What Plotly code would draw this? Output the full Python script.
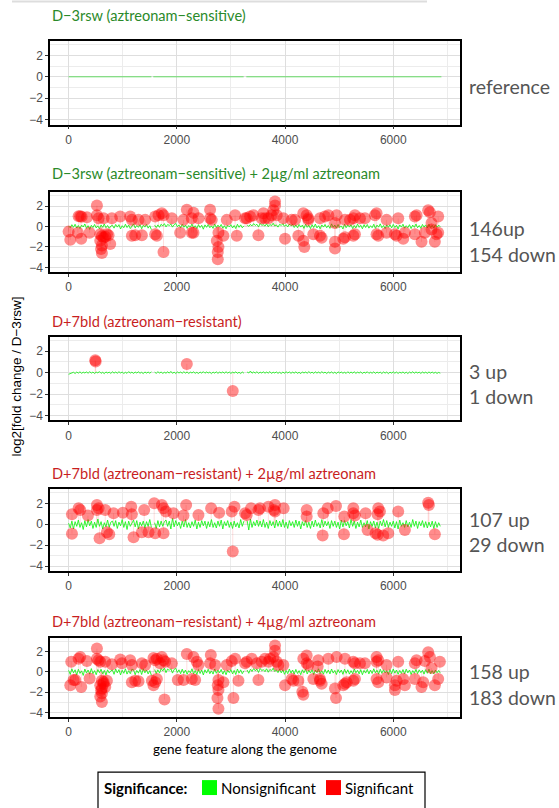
import plotly.graph_objects as go

W, H = 559, 808

# ---------------- data ----------------
# sampled gene positions for the non-significant trend line (every 30th gene)
ns_gene = list(range(0, 6900, 30))  # 230 positions

# panel 1: reference vs itself (all zero, two unannotated gaps)
ref_gene = [0, 1530, None, 1565, 3235, None, 3285, 6890]
ref_lfc = [0, 0, None, 0, 0, None, 0, 0]

p2_ns = [
    .05, -.12, .18, -.08, .22, -.15, .10, -.20, .14, -.05,
    .25, -.18, .08, -.28, .12, -.10, .20, -.14, .06, -.22,
    .16, -.08, .24, -.12, .10, -.18, .04, .12, -.16, .20,
    -.06, .18, -.24, .08, -.12, .22, -.10, .14, -.20, .06,
    .26, -.14, .10, -.08, .18, -.22, .12, -.06, .20, -.16,
    .08, -.30, None, .14, -.10, .16, -.08, .22, .05, .28,
    -.04, .20, .10, .24, -.06, .18, .30, -.02, .16, -.12,
    .22, -.08, .14, -.18, .10, -.06, .24, -.14, .08, -.20,
    .18, -.10, .12, -.26, .16, -.08, .20, -.12, .06, -.18,
    .24, -.10, .14, -.06, .20, -.16, .08, -.22, .12, -.04,
    .18, -.14, .10, -.20, .22, -.08, .16, -.12, .06, None,
    .14, .02, .20, .06, .28, .10, .22, -.04, .30, .12,
    .18, .04, .26, -.02, .20, .08, .32, .06, .16, -.06,
    .22, .10, .28, .02, .18, -.04, .24, .08, .20, -.10,
    .16, -.12, .20, -.06, .14, -.18, .22, -.08, .12, -.20,
    .18, -.10, .24, -.14, .08, -.22, .16, -.06, .20, -.12,
    .10, -.18, .26, -.08, .14, -.16, .20, -.10, .06, -.24,
    .22, -.12, .16, -.06, .18, -.20, .10, -.14, .24, -.08,
    .12, -.22, .18, -.10, .20, -.16, .08, -.12, .22, -.18,
    .14, -.06, .26, -.12, .10, -.20, .16, -.08, .18, -.14,
    .20, -.10, .12, -.24, .16, -.06, .22, -.16, .08, -.12,
    .18, -.20, .14, -.08, .24, -.12, .10, -.18, .20, -.06,
    .16, -.14, .22, -.10, .12, -.16, .18, -.08, .14, -.04]

p3_ns = [
    -.15, -.10, -.05, .04, -.08, .06, -.04, .08, -.06, .05,
    -.03, .07, -.05, .09, -.04, .06, -.08, .05, -.02, .10,
    -.06, .04, -.09, .07, -.03, .05, -.07, .08, -.04, .06,
    -.05, .09, -.03, .06, -.08, .04, -.06, .10, -.04, .05,
    -.07, .06, -.03, .08, -.05, .04, -.09, .07, -.04, .06,
    -.05, .08, None, .05, -.06, .09, -.03, .06, -.07, .04,
    -.05, .08, -.04, .12, -.06, .05, -.08, .07, -.03, .06,
    -.05, .09, -.04, .06, -.07, .05, -.03, .08, -.06, .04,
    -.08, .06, -.04, .10, -.05, .07, -.03, .05, -.09, .06,
    -.04, .08, -.06, .05, -.03, .07, -.05, .09, -.04, .06,
    -.07, .05, -.03, .08, -.06, .04, -.08, .06, -.05, None,
    .06, -.03, .15, -.05, .07, -.04, .09, -.06, .05, -.03,
    .08, -.05, .06, -.04, .10, -.07, .05, -.03, .07, -.06,
    .04, -.08, .06, -.05, .09, -.03, .07, -.06, .05, -.04,
    .08, -.06, .04, -.09, .07, -.03, .06, -.05, .10, -.04,
    .05, -.07, .08, -.04, .06, -.05, .09, -.03, .05, -.08,
    .06, -.04, .07, -.06, .05, -.09, .08, -.03, .06, -.05,
    .04, -.07, .09, -.05, .06, -.04, .08, -.06, .05, -.03,
    .07, -.08, .05, -.04, .09, -.06, .04, -.05, .08, -.07,
    .06, -.03, .05, -.08, .07, -.04, .06, -.09, .05, -.04,
    .08, -.05, .06, -.07, .04, -.03, .07, -.06, .05, -.08,
    .06, -.04, .09, -.05, .07, -.03, .05, -.07, .06, -.04,
    .05, -.06, .07, -.04, .06, -.05, .04, -.07, .03, -.05]

p4_ns = [
    .10, -.35, .30, -.45, .25, -.20, .40, -.30, .15, -.50,
    .35, -.25, .45, -.15, .30, -.40, .20, -.30, .50, -.20,
    .25, -.45, .15, -.25, .40, -.30, .20, .30, -.20, .35,
    -.40, .20, -.15, .45, -.30, .25, -.50, .30, -.20, .15,
    .40, -.25, .35, -.45, .20, -.15, .30, -.35, .25, -.20,
    .45, -.30, None, .15, -.40, .35, -.25, .30, -.20, .25,
    .40, -.20, .30, -.45, .55, -.25, .35, -.15, .20, -.40,
    .30, -.25, .45, -.30, .15, -.35, .25, -.20, .40, -.45,
    .20, -.30, .35, -.15, .30, -.40, .25, -.25, .45, -.30,
    .15, -.35, .30, -.20, .40, -.45, .25, -.15, .35, -.30,
    .20, -.40, .30, -.25, .15, -.35, .45, -.20, .30, None,
    .35, -.55, .50, -.30, .25, -.15, .40, -.20, .30, -.25,
    .45, -.30, .20, -.40, .35, -.15, .25, -.35, .40, -.20,
    .30, -.25, .45, -.30, .20, -.40, .35, -.15, .25, -.30,
    .40, -.20, .30, -.45, .25, -.15, .35, -.30, .20, -.40,
    .30, -.25, .40, -.20, .15, -.35, .45, -.25, .30, -.15,
    .25, -.40, .35, -.20, .30, -.30, .20, -.45, .40, -.25,
    .35, -.15, .25, -.35, .45, -.20, .30, -.40, .20, -.25,
    .40, -.30, .15, -.25, .35, -.45, .25, -.20, .30, -.35,
    .20, -.40, .30, -.15, .45, -.25, .35, -.30, .20, -.20,
    .30, -.35, .25, -.45, .40, -.20, .15, -.30, .35, -.25,
    .20, -.30, .45, -.20, .30, -.40, .25, -.15, .35, -.30,
    .25, -.35, .20, -.25, .30, -.40, .25, -.30, .15, -.20]

p5_ns = [
    .15, -.25, .30, -.10, .20, -.30, .25, -.15, .10, -.35,
    .28, -.12, .18, -.22, .32, -.18, .12, -.28, .22, -.08,
    .26, -.20, .14, -.30, .20, -.12, .10, .18, -.24, .28,
    -.10, .22, -.30, .16, -.14, .30, -.22, .12, -.18, .26,
    .20, -.28, .14, -.12, .24, -.26, .30, -.10, .18, -.20,
    .12, -.34, None, .22, -.16, .20, -.12, .32, .10, .36,
    -.08, .28, .14, .30, -.12, .24, .34, -.06, .20, -.18,
    .26, -.14, .18, -.24, .12, -.10, .30, -.20, .14, -.26,
    .22, -.16, .18, -.30, .20, -.12, .26, -.18, .10, -.22,
    .28, -.14, .18, -.10, .24, -.22, .12, -.28, .16, -.08,
    .22, -.20, .14, -.26, .28, -.12, .20, -.18, .10, None,
    .18, -.14, .26, .04, .32, .10, .28, -.06, .34, .12,
    .22, .02, .30, -.04, .24, .10, .36, .04, .20, -.08,
    .26, -.10, .20, -.24, .14, -.18, .28, -.12, .18, -.22,
    .24, -.16, .12, -.28, .20, -.10, .26, -.20, .16, -.12,
    .22, -.26, .18, -.08, .30, -.16, .12, -.22, .24, -.14,
    .18, -.20, .28, -.12, .14, -.26, .22, -.10, .18, -.24,
    .26, -.14, .20, -.22, .12, -.18, .28, -.10, .16, -.20,
    .22, -.28, .14, -.12, .24, -.20, .18, -.16, .30, -.10,
    .16, -.22, .26, -.14, .20, -.10, .12, -.26, .22, -.18,
    .28, -.12, .18, -.24, .14, -.16, .22, -.20, .26, -.10,
    .18, -.26, .12, -.14, .24, -.18, .20, -.08, .16, -.22,
    .22, -.14, .26, -.18, .12, -.20, .18, -.10, .14, -.12]

# significant genes (gene index, log2 fold change)
p2_sig_gene = [0, 31, 185, 215, 240, 338, 172, 234, 388,
               523, 523, 554, 646, 585, 615, 646, 708, 585, 615, 615, 600, 677, 738, 769, 800,
               954, 1138, 1169, 1169, 1231, 1354, 1292, 1415,
               1600, 1662, 1723, 1754, 1600, 1631, 1754, 1908,
               2062, 2123, 2185, 2277, 2308, 2277, 2308, 2400,
               2615, 2615, 2646, 2769, 2739, 2769, 2757, 2757, 2862, 2923,
               3077, 3108, 3262, 3292, 3354, 3415, 3569, 3600, 3508,
               3631, 3692, 3754, 3785, 3815, 3815, 3846, 3969, 4000,
               4123, 4185, 4246, 4338, 4400, 4431, 4431, 4338, 4357,
               4523, 4646, 4677, 4646, 4738, 4800, 4954, 4923, 4923, 4923,
               5077, 5108, 5108, 5200, 5262, 5292, 5385, 5477, 5292, 5262,
               5662, 5692, 5877, 6092, 5692, 5723, 5877, 6031, 6062,
               6215, 6185, 6400, 6431, 6400, 6523, 6646, 6677, 6708, 6585, 6708, 6831, 6800, 6831, 6769]
p2_sig_lfc = [-0.5, -1.3, 1.0, 1.0, 0.95, 0.9, -0.6, -1.2, -0.6,
              2.05, 1.1, 0.8, 0.8, -0.75, -0.95, -1.1, -0.75, -1.4, -1.85, -2.6, -2.2, -1.0, -0.85, -1.7, 0.8,
              0.97, 0.97, 0.65, -0.9, -0.85, -0.85, 0.65, 0.65,
              0.97, 1.1, 1.3, 1.1, -0.75, -0.9, -2.5, 0.8,
              -0.6, 0.65, 1.65, 0.8, 1.35, -0.6, -0.6, 0.8,
              1.65, 0.8, 0.65, -0.6, -1.4, -2.0, -2.5, -3.2, -0.9, 0.65,
              1.1, -0.9, 0.8, 0.8, 0.97, 1.1, 0.8, 1.3, -0.85,
              0.8, 0.8, 1.1, 1.6, 2.05, 2.45, 1.1, 0.8, -1.2,
              0.65, 0.65, -0.9, 1.3, 1.1, 0.8, 0.65, -1.4, -2.0,
              -0.75, -0.9, -1.1, 0.8, 0.97, 1.1, 1.1, 0.35, -1.5, -2.15,
              -1.2, -1.05, 0.65, 0.65, 0.8, 1.1, 0.8, 0.8, -0.75, -0.9,
              1.1, 1.3, 0.65, 0.8, -0.75, -0.9, -0.6, -0.75, -0.9,
              -0.6, -1.2, 0.97, 1.1, -0.75, -1.5, 1.6, 1.4, 0.35, -0.6, -0.3, 0.97, -0.75, -0.6, -1.5]

p3_sig_gene = [492, 500, 2185, 3034]
p3_sig_lfc = [1.15, 1.05, 0.82, -1.7]

p4_sig_gene = [62, 62, 185, 215, 357, 523, 523, 554, 677, 572, 708, 751, 831, 1003,
               1157, 1169, 1200, 1397, 1354, 1477, 1582, 1600, 1754, 1723, 1754, 1797, 1938,
               2123, 2172, 2400, 2634, 2782, 3015, 3065, 3034, 3262, 3292, 3372, 3508, 3538,
               3692, 3815, 3815, 3797, 3975, 4400, 4400, 4695, 4708, 4788, 4942, 5095, 5089,
               5262, 5262, 5292, 5489, 5526, 5674, 5711, 5815, 5908, 5723, 5754, 5711,
               6092, 6215, 6646, 6659, 6769]
p4_sig_lfc = [0.95, -0.9, 1.52, 1.37, 0.83, 1.84, 1.37, 1.52, 1.37, -1.33, -0.76, -0.95, 1.05, 1.11,
              1.68, 0.95, -1.24, 1.37, -0.76, -0.76, 2.0, -0.86, -0.86, 1.84, 1.52, 1.21, 1.05,
              0.83, 1.84, 0.89, 1.52, 1.11, 1.21, 1.68, -2.6, 1.05, 0.89, 1.52, 1.37, 1.52,
              1.68, 1.84, 1.21, 1.37, 1.52, 1.37, 0.73, -1.08, 1.05, 1.52, 1.75, 0.73, -0.95,
              1.52, 1.05, 0.83, 1.05, -0.55, -0.86, -1.0, -1.08, -0.86, 1.52, 1.21, 0.95,
              1.21, -0.55, 2.06, 1.84, -0.95]

p5_sig_gene = [49, 31, 92, 123, 185, 215, 234, 338, 388,
               523, 523, 554, 585, 677, 615, 646, 585, 677, 615, 708, 615, 585, 615, 646, 600,
               800, 954, 985, 1138, 1169, 1169, 1231, 1292, 1354, 1415,
               1569, 1600, 1631, 1723, 1754, 1692, 1785, 1539, 1600, 1631, 1569, 1772,
               1908, 2018, 2123, 2185, 2308, 2369, 2400, 2277, 2339,
               2628, 2615, 2708, 2769, 2757, 2769, 2751, 2769, 2862, 2923, 3015, 3077, 3046, 3139,
               3262, 3292, 3385, 3477, 3569, 3631, 3508,
               3692, 3723, 3785, 3815, 3815, 3846, 3877, 3969, 4000, 4123, 4154, 4246,
               4338, 4400, 4431, 4400, 4320, 4338, 4523, 4603, 4646, 4677, 4646,
               4615, 4800, 4954, 4923, 4942,
               5077, 5108, 5139, 5262, 5292, 5108, 5262, 5292, 5385, 5477,
               5692, 5723, 5692, 5877, 5692, 5723, 5877, 6031, 6062, 6185, 6215, 6031,
               6092, 6400, 6431, 6400, 6523, 6554, 6646, 6677, 6708, 6585, 6769, 6831, 6862]
p5_sig_lfc = [0.98, -1.32, -0.8, -0.8, 1.29, 1.45, -1.48, 1.05, -0.65,
              2.28, 1.29, 1.14, 0.98, 0.98, -0.86, -1.17, -1.32, -1.48, -1.63, -0.86, -2.09, -2.4, -2.95, -1.0, -1.8,
              0.74, 1.2, 0.83, 1.14, 0.68, -1.02, -0.86, -0.92, 0.83, 0.68,
              1.35, 1.14, 1.29, 1.45, 1.14, 0.83, 0.98, -0.86, -1.02, -0.71, -1.32, -2.71,
              0.83, -0.8, -0.8, 1.75, 1.45, 0.98, 0.68, -0.71, -0.8,
              1.66, 0.83, 0.68, -0.8, -1.32, -1.78, -2.55, -3.6, -1.02, 0.68, 1.05, 1.29, -2.55, -0.86,
              0.83, 0.98, 1.29, 0.83, 0.98, 1.29, -0.8,
              0.98, 1.29, 1.45, 2.06, 2.58, 0.98, 0.68, 0.68, -1.32, -0.71, -0.86, -0.86,
              1.29, 1.6, 0.68, 0.83, -1.94, -2.25, -0.71, 0.52, -0.86, -1.17, -0.71,
              1.14, 1.29, 1.45, -1.63, -2.55,
              -1.32, -1.17, -1.02, -0.86, -0.71, 1.29, 0.98, 0.83, 0.83, 0.83,
              1.45, 1.14, 0.98, 0.68, -0.71, -1.02, -0.55, -1.32, -0.86, -0.71, -1.32, -1.78,
              0.98, 0.83, 1.14, -0.71, -1.48, -1.02, 1.91, 1.45, 0.37, 1.05, -1.32, -0.71, 0.98]

titles = ["D\u22123rsw (aztreonam\u2212sensitive)",
          "D\u22123rsw (aztreonam\u2212sensitive) + 2\u00b5g/ml aztreonam",
          "D+7bld (aztreonam\u2212resistant)",
          "D+7bld (aztreonam\u2212resistant) + 2\u00b5g/ml aztreonam",
          "D+7bld (aztreonam\u2212resistant) + 4\u00b5g/ml aztreonam"]
side_labels = [["reference"], ["146up", "154 down"], ["3 up", "1 down"],
               ["107 up", "29 down"], ["158 up", "183 down"]]

# ---------------- layout constants ----------------
GREEN_T = "#2A8A2A"
RED_T = "#C81E1E"
title_colors = [GREEN_T, GREEN_T, RED_T, RED_T, RED_T]
bounds = [(41, 125), (193, 273), (338, 422), (491, 573), (640, 720)]
title_y = [16, 174, 323, 475, 624]
side_y = [[87], [229, 255], [373, 398], [521, 547], [674, 700]]
X0, X1 = 50, 460


def px(x):
    return x / W


def py(y):
    return 1 - y / H


ns_x = [ref_gene, ns_gene, ns_gene, ns_gene, ns_gene]
ns_y = [ref_lfc, p2_ns, p3_ns, p4_ns, p5_ns]
sig_x = [[], p2_sig_gene, p3_sig_gene, p4_sig_gene, p5_sig_gene]
sig_y = [[], p2_sig_lfc, p3_sig_lfc, p4_sig_lfc, p5_sig_lfc]

fig = go.Figure()
annotations = []
shapes = []
tickfont = dict(family="Liberation Sans, Arial, sans-serif", size=12, color="#4D4D4D")

for i in range(5):
    sfx = "" if i == 0 else str(i + 1)
    xa, ya = "x" + sfx, "y" + sfx
    if sig_x[i]:
        sx, sy = [], []
        for g, v in zip(sig_x[i], sig_y[i]):
            sx += [g, g, None]
            sy += [0, v, None]
        fig.add_trace(go.Scatter(x=sx, y=sy, mode="lines", xaxis=xa, yaxis=ya,
                                 line=dict(color="rgba(255,0,0,0.22)", width=0.6),
                                 hoverinfo="skip", showlegend=False))
    fig.add_trace(go.Scatter(x=ns_x[i], y=ns_y[i], mode="lines", xaxis=xa, yaxis=ya,
                             line=dict(color="rgba(20,245,20,0.95)" if i else "rgba(90,220,90,0.9)",
                                       width=0.9 if i else 1.0),
                             connectgaps=False, hoverinfo="skip", showlegend=False))
    if sig_x[i]:
        fig.add_trace(go.Scatter(x=sig_x[i], y=sig_y[i], mode="markers", xaxis=xa, yaxis=ya,
                                 marker=dict(color="rgba(255,0,0,0.45)", size=12, line=dict(width=0)),
                                 showlegend=False))
    top, bot = bounds[i]
    fig.layout["xaxis" + sfx] = dict(
        domain=[px(X0), px(X1)], range=[-344, 7234], anchor=ya,
        tick0=0, dtick=2000, ticks="outside", ticklen=3, tickwidth=1, tickcolor="#333333",
        showgrid=True, gridcolor="#DEDEDE", gridwidth=1, zeroline=False,
        minor=dict(dtick=1000, tick0=0, showgrid=True, gridcolor="#ECECEC", gridwidth=0.6),
        showline=True, mirror=True, linecolor="black", linewidth=1.5,
        tickfont=tickfont, fixedrange=True)
    fig.layout["yaxis" + sfx] = dict(
        domain=[py(bot), py(top)], range=[-4.45, 3.35], anchor=xa,
        tick0=0, dtick=2, ticks="outside", ticklen=3, tickwidth=1, tickcolor="#333333",
        showgrid=True, gridcolor="#DEDEDE", gridwidth=1, zeroline=False,
        minor=dict(dtick=1, tick0=0, showgrid=True, gridcolor="#ECECEC", gridwidth=0.6),
        showline=True, mirror=True, linecolor="black", linewidth=1.5,
        tickfont=tickfont, fixedrange=True)
    annotations.append(dict(text=titles[i], x=px(X0), y=py(title_y[i]), xref="paper", yref="paper",
                            xanchor="left", yanchor="middle", showarrow=False,
                            font=dict(family="Lato, Open Sans, sans-serif", size=14.6,
                                      color=title_colors[i])))
    for lab, yy in zip(side_labels[i], side_y[i]):
        annotations.append(dict(text=lab, x=px(467), y=py(yy), xref="paper", yref="paper",
                                xanchor="left", yanchor="middle", showarrow=False,
                                font=dict(family="Lato, Open Sans, sans-serif", size=19.5,
                                          color="#555555")))

annotations.append(dict(text="log2[fold change / D\u22123rsw]", x=px(17), y=py(378),
                        xref="paper", yref="paper", textangle=-90, showarrow=False,
                        xanchor="center", yanchor="middle",
                        font=dict(family="Liberation Sans, Arial, sans-serif", size=13.5, color="black")))
annotations.append(dict(text="gene feature along the genome", x=px(245), y=py(752),
                        xref="paper", yref="paper", showarrow=False, xanchor="center", yanchor="middle",
                        font=dict(family="Lato, Open Sans, sans-serif", size=13.5, color="black")))

# legend (drawn manually)
shapes.append(dict(type="rect", xref="paper", yref="paper", x0=px(98), x1=px(425), y0=py(820), y1=py(775),
                   line=dict(color="black", width=1.2), fillcolor="white", layer="below"))
shapes.append(dict(type="rect", xref="paper", yref="paper", x0=px(202), x1=px(217), y0=py(798), y1=py(783),
                   line=dict(width=0), fillcolor="#00FF00"))
shapes.append(dict(type="rect", xref="paper", yref="paper", x0=px(326), x1=px(341), y0=py(798), y1=py(783),
                   line=dict(width=0), fillcolor="#FF0000"))
legfont = dict(family="Lato, Open Sans, sans-serif", size=15, color="black")
annotations.append(dict(text="<b>Significance:</b>", x=px(102), y=py(791), xref="paper", yref="paper",
                        xanchor="left", yanchor="middle", showarrow=False, font=legfont))
annotations.append(dict(text="Nonsignificant", x=px(219), y=py(791), xref="paper", yref="paper",
                        xanchor="left", yanchor="middle", showarrow=False, font=legfont))
annotations.append(dict(text="Significant", x=px(343), y=py(791), xref="paper", yref="paper",
                        xanchor="left", yanchor="middle", showarrow=False, font=legfont))
shapes.append(dict(type="line", xref="paper", yref="paper", x0=px(12), x1=px(427), y0=py(1.5), y1=py(1.5),
                   line=dict(color="#DDDDDD", width=2)))

fig.update_layout(width=W, height=H, margin=dict(l=0, r=0, t=0, b=0),
                  paper_bgcolor="white", plot_bgcolor="white",
                  annotations=annotations, shapes=shapes, showlegend=False)

fig.write_html("out.html", config={"displayModeBar": False},
               post_script="document.body.style.margin='0';document.body.style.overflow='hidden';")
